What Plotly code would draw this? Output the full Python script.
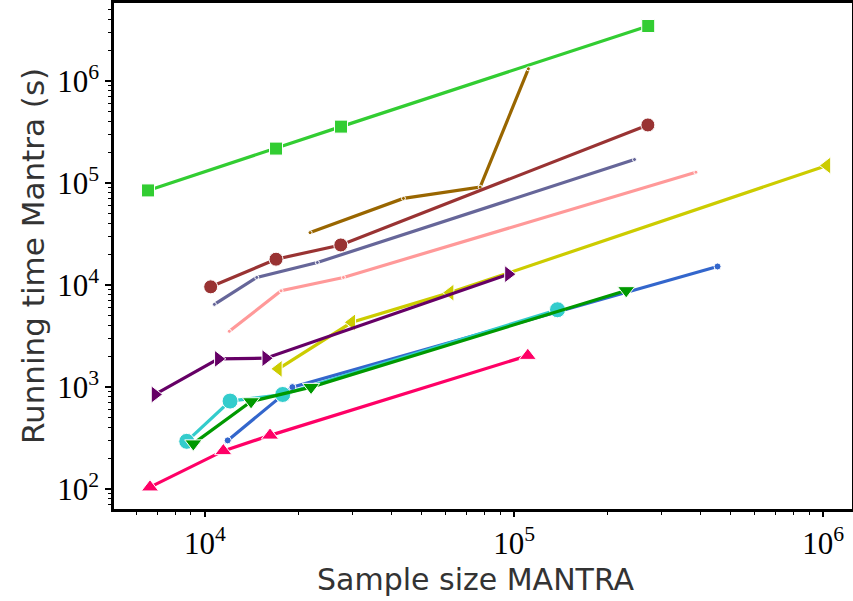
import plotly.graph_objects as go

# Sample size (MANTRA) and running time (s) for each configuration
lime_x = [6540, 16970, 27540, 271500]
lime_y = [84300, 216700, 355700, 3440000]

brown_x = [21870, 43840, 77620, 111200]
brown_y = [32560, 70420, 90780, 1310000]

darkred_x = [10430, 16970, 27490, 270800]
darkred_y = [9580, 17870, 24640, 369300]

slate_x = [10720, 14700, 23090, 245100]
slate_y = [6450, 11840, 16590, 169300]

pink_x = [11985, 17620, 28030, 387300]
pink_y = [3515, 8760, 11840, 127200]

yellow_x = [17270, 29840, 62080, 1028000]
yellow_y = [1506, 4303, 8410, 147900]

purple_x = [6890, 11040, 15720, 95850]
purple_y = [845, 1886, 1915, 12750]

blue_x = [11840, 19170, 455000]
blue_y = [300, 997.7, 15160]

cyan_x = [8726, 12050, 17840, 138100]
cyan_y = [293.7, 728, 845, 5713]

green_x = [9165, 14090, 22030, 230400]
green_y = [278.8, 721.8, 997.7, 8839]

magenta_x = [6637, 11460, 16230, 110700]
magenta_y = [104.4, 236.6, 336, 2030]

x_tick_vals = [1e4, 1e5, 1e6]
x_tick_text = ["10<sup>4</sup>", "10<sup>5</sup>", "10<sup>6</sup>"]
y_tick_vals = [1e2, 1e3, 1e4, 1e5, 1e6]
y_tick_text = ["10<sup>2</sup>", "10<sup>3</sup>", "10<sup>4</sup>",
               "10<sup>5</sup>", "10<sup>6</sup>"]

series = [
    (lime_x, lime_y, "#32CD32", "square", 13),
    (brown_x, brown_y, "#996600", "circle", 4),
    (darkred_x, darkred_y, "#993333", "circle", 14),
    (slate_x, slate_y, "#666699", "circle", 4),
    (pink_x, pink_y, "#FF9999", "circle", 4),
    (yellow_x, yellow_y, "#CCCC00", "triangle-left", 15),
    (purple_x, purple_y, "#660066", "triangle-right", 15),
    (blue_x, blue_y, "#3366CC", "circle", 7),
    (cyan_x, cyan_y, "#33CCCC", "circle", 16),
    (green_x, green_y, "#009900", "triangle-down", 15),
    (magenta_x, magenta_y, "#FF0066", "triangle-up", 15),
]

fig = go.Figure()
for xs, ys, color, symbol, size in series:
    fig.add_trace(go.Scatter(
        x=xs, y=ys, mode="lines+markers",
        line=dict(color=color, width=3.2),
        marker=dict(symbol=symbol, size=size, color=color,
                    line=dict(color="white", width=1)),
        showlegend=False,
    ))


def minor_vals(lo_exp, hi_exp):
    vals = []
    for e in range(lo_exp, hi_exp + 1):
        for m in range(2, 10):
            vals.append(m * 10 ** e)
    return vals


tick_font = dict(family="Liberation Serif", size=31, color="black")
ytitle_font = dict(family="DejaVu Sans", size=31, color="#333333")
xtitle_font = dict(family="DejaVu Sans", size=30, color="#333333")

fig.update_xaxes(
    type="log", range=[3.7055, 6.093], automargin=False,
    tickvals=x_tick_vals, ticktext=x_tick_text, tickfont=tick_font,
    ticks="outside", ticklen=5, tickwidth=1.5, tickcolor="black",
    minor=dict(tickvals=minor_vals(3, 6), ticks="outside", ticklen=3,
               tickwidth=1, tickcolor="black"),
    showline=True, linecolor="black", linewidth=2.5, mirror=True,
    showgrid=False, zeroline=False,
)
fig.update_yaxes(
    type="log", range=[1.805, 6.762], automargin=False,
    tickvals=y_tick_vals, ticktext=y_tick_text, tickfont=tick_font,
    ticks="outside", ticklen=6, tickwidth=1.5, tickcolor="black",
    minor=dict(tickvals=minor_vals(1, 6), ticks="outside", ticklen=3,
               tickwidth=1, tickcolor="black"),
    showline=True, linecolor="black", linewidth=2.5, mirror=True,
    showgrid=False, zeroline=False,
    title=dict(text="Running time Mantra (s)", font=ytitle_font, standoff=4),
)

# x-axis title placed just below the tick labels
fig.add_annotation(
    text="Sample size MANTRA", font=xtitle_font, showarrow=False,
    xref="paper", yref="paper", x=0.49, y=0,
    xanchor="center", yanchor="top", yshift=-51,
)

fig.update_layout(
    width=853, height=601,
    margin=dict(l=114, r=1, t=3, b=92),
    plot_bgcolor="white", paper_bgcolor="white",
)

fig.write_html("out.html")
